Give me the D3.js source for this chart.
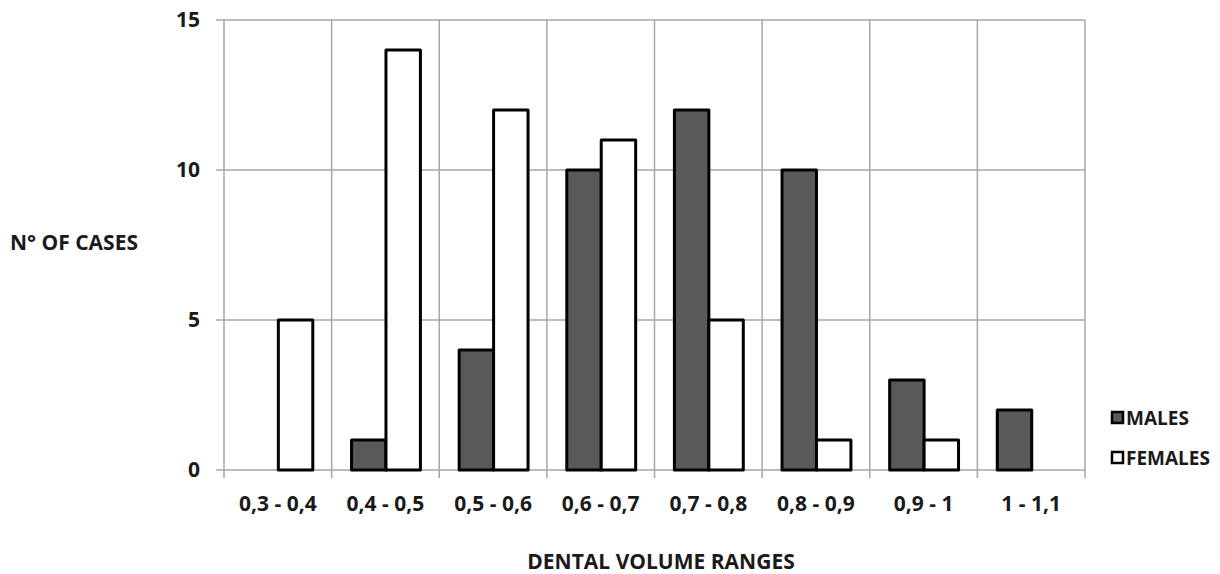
<!DOCTYPE html>
<html>
<head>
<meta charset="utf-8">
<script src="https://cdn.jsdelivr.net/npm/d3@7"></script>
<style>
  html, body { margin: 0; padding: 0; background: #fff; }
  svg text { font-family: "Open Sans", Lato, sans-serif; font-weight: bold; fill: #1a1a1a; }
</style>
</head>
<body>
<svg id="chart" width="1220" height="574"></svg>
<script>
const categories = ["0,3 - 0,4", "0,4 - 0,5", "0,5 - 0,6", "0,6 - 0,7", "0,7 - 0,8", "0,8 - 0,9", "0,9 - 1", "1 - 1,1"];
const males   = [0, 1, 4, 10, 12, 10, 3, 2];
const females = [5, 14, 12, 11, 5, 1, 1, 0];
const seriesNames = ["MALES", "FEMALES"];
const yTicks = [0, 5, 10, 15];

const svg = d3.select("#chart");
const plotLeft = 224, plotRight = 1085, plotTop = 20, plotBottom = 470;
const fontSize = 21;
const legendFontSize = 19;

const x = d3.scaleBand().domain(categories).range([plotLeft, plotRight]).paddingInner(0).paddingOuter(0);
const x1 = d3.scaleBand().domain(seriesNames).range([x.bandwidth() * 0.185, x.bandwidth() * 0.825]);
const y = d3.scaleLinear().domain([0, 15]).range([plotBottom, plotTop]);

const grid = "#a6a6a6";

// horizontal gridlines with short tick marks on the left
svg.append("g").selectAll("line").data(yTicks).join("line")
  .attr("x1", plotLeft - 8).attr("x2", plotRight)
  .attr("y1", d => y(d)).attr("y2", d => y(d))
  .attr("stroke", grid).attr("stroke-width", 1.5);

// vertical gridlines at category boundaries, extending below the baseline
const bounds = categories.map(c => x(c)).concat([plotRight]);
svg.append("g").selectAll("line").data(bounds).join("line")
  .attr("x1", d => d).attr("x2", d => d)
  .attr("y1", plotTop).attr("y2", plotBottom + 8)
  .attr("stroke", grid).attr("stroke-width", 1.5);

// y tick labels
svg.append("g").selectAll("text").data(yTicks).join("text")
  .attr("x", 200).attr("y", d => y(d) + 7)
  .attr("text-anchor", "end").attr("font-size", fontSize)
  .text(d => d);

// category labels
svg.append("g").selectAll("text").data(categories).join("text")
  .attr("x", d => x(d) + x.bandwidth() / 2).attr("y", 511)
  .attr("text-anchor", "middle").attr("font-size", fontSize)
  .text(d => d);

const fills = { MALES: "#595959", FEMALES: "#ffffff" };
const rows = categories.map((c, i) => ({ cat: c, vals: [{ s: "MALES", v: males[i] }, { s: "FEMALES", v: females[i] }] }));

const groups = svg.append("g").selectAll("g").data(rows).join("g")
  .attr("transform", d => `translate(${x(d.cat)},0)`);
groups.selectAll("rect").data(d => d.vals.filter(e => e.v > 0)).join("rect")
  .attr("x", d => x1(d.s)).attr("width", x1.bandwidth())
  .attr("y", d => y(d.v)).attr("height", d => y(0) - y(d.v))
  .attr("fill", d => fills[d.s]).attr("stroke", "#000").attr("stroke-width", 3)
  .attr("stroke-linejoin", "round");

// axis titles
svg.append("text").attr("x", 10).attr("y", 250).attr("font-size", fontSize).text("N° OF CASES");
svg.append("text").attr("x", 661).attr("y", 569).attr("text-anchor", "middle")
  .attr("font-size", fontSize).text("DENTAL VOLUME RANGES");

// legend
const legend = svg.append("g").selectAll("g").data(seriesNames).join("g")
  .attr("transform", (d, i) => `translate(1112,${412 + i * 40})`);
legend.append("rect").attr("width", 11).attr("height", 11)
  .attr("fill", d => fills[d]).attr("stroke", "#000").attr("stroke-width", 2.5);
legend.append("text").attr("x", 14).attr("y", 13).attr("font-size", legendFontSize).text(d => d);
</script>
</body>
</html>
